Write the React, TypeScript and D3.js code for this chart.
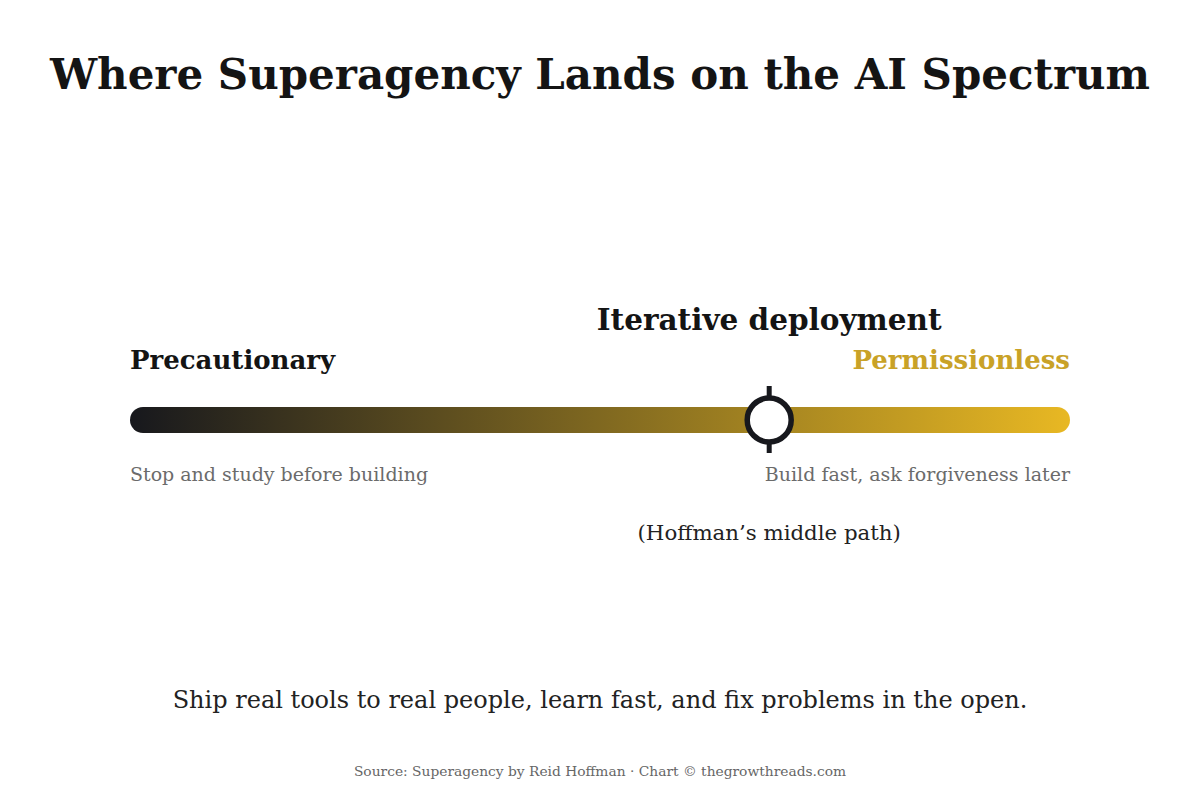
import React, { useEffect, useRef } from 'react';
import * as d3 from 'd3';

// spectrum data
const spectrumDomain = [0, 100];
const endLabels = ['Precautionary', 'Permissionless'];
const endNotes = ['Stop and study before building', 'Build fast, ask forgiveness later'];
const markerValue = [68];
const markerLabels = ['Iterative deployment', '(Hoffman\u2019s middle path)'];
const gradientStops = ['#17181d', '#e8b823'];

const title = 'Where Superagency Lands on the AI Spectrum';
const takeaway = 'Ship real tools to real people, learn fast, and fix problems in the open.';
const source = 'Source: Superagency by Reid Hoffman \u00b7 Chart \u00a9 thegrowthreads.com';

const SERIF = '"DejaVu Serif", Georgia, serif';

export default function App() {
  const svgRef = useRef<SVGSVGElement>(null);

  useEffect(() => {
    if (!svgRef.current) return;
    d3.select(svgRef.current).selectAll('*').remove();

    const width = 1200;
    const height = 800;
    const svg = d3.select(svgRef.current)
      .attr('width', width)
      .attr('height', height)
      .style('display', 'block')
      .style('background', '#ffffff');

    const x = d3.scaleLinear().domain(spectrumDomain).range([130, 1070]);
    const barY = 420;
    const barH = 26;

    const grad = svg.append('defs')
      .append('linearGradient')
      .attr('id', 'spectrum-gradient')
      .attr('x1', '0%').attr('x2', '100%')
      .attr('y1', '0%').attr('y2', '0%');
    gradientStops.forEach((c, i) => {
      grad.append('stop')
        .attr('offset', `${(i / (gradientStops.length - 1)) * 100}%`)
        .attr('stop-color', c);
    });

    // title
    svg.append('text')
      .attr('x', width / 2)
      .attr('y', 89)
      .attr('text-anchor', 'middle')
      .attr('font-family', SERIF)
      .attr('font-weight', 700)
      .attr('font-size', 42)
      .attr('fill', '#141414')
      .text(title);

    // bar
    svg.append('rect')
      .attr('x', x(spectrumDomain[0]))
      .attr('y', barY - barH / 2)
      .attr('width', x(spectrumDomain[1]) - x(spectrumDomain[0]))
      .attr('height', barH)
      .attr('rx', barH / 2)
      .attr('fill', 'url(#spectrum-gradient)');

    // end labels
    const endColors = ['#141414', '#c9a227'];
    endLabels.forEach((lab, i) => {
      svg.append('text')
        .attr('x', x(spectrumDomain[i]))
        .attr('y', 369)
        .attr('text-anchor', i === 0 ? 'start' : 'end')
        .attr('font-family', SERIF)
        .attr('font-weight', 700)
        .attr('font-size', 26)
        .attr('fill', endColors[i])
        .text(lab);
    });

    endNotes.forEach((note, i) => {
      svg.append('text')
        .attr('x', x(spectrumDomain[i]))
        .attr('y', 481)
        .attr('text-anchor', i === 0 ? 'start' : 'end')
        .attr('font-family', SERIF)
        .attr('font-size', 19)
        .attr('fill', '#6b6b6b')
        .text(note);
    });

    // marker
    const mx = x(markerValue[0]);
    svg.append('line')
      .attr('x1', mx).attr('x2', mx)
      .attr('y1', barY - 34).attr('y2', barY + 33)
      .attr('stroke', '#17181d')
      .attr('stroke-width', 5);
    svg.append('circle')
      .attr('cx', mx)
      .attr('cy', barY)
      .attr('r', 22)
      .attr('fill', '#ffffff')
      .attr('stroke', '#17181d')
      .attr('stroke-width', 5.5);

    svg.append('text')
      .attr('x', mx)
      .attr('y', 330)
      .attr('text-anchor', 'middle')
      .attr('font-family', SERIF)
      .attr('font-weight', 700)
      .attr('font-size', 29.5)
      .attr('fill', '#141414')
      .text(markerLabels[0]);

    svg.append('text')
      .attr('x', mx)
      .attr('y', 540)
      .attr('text-anchor', 'middle')
      .attr('font-family', SERIF)
      .attr('font-size', 21.3)
      .attr('fill', '#222222')
      .text(markerLabels[1]);

    // takeaway + source
    svg.append('text')
      .attr('x', width / 2)
      .attr('y', 708)
      .attr('text-anchor', 'middle')
      .attr('font-family', SERIF)
      .attr('font-size', 24)
      .attr('fill', '#222222')
      .text(takeaway);

    svg.append('text')
      .attr('x', width / 2)
      .attr('y', 776)
      .attr('text-anchor', 'middle')
      .attr('font-family', SERIF)
      .attr('font-size', 13.8)
      .attr('fill', '#666666')
      .text(source);
  }, []);

  return (
    <div style={{ position: 'absolute', left: 0, top: 0 }}>
      <svg ref={svgRef}></svg>
    </div>
  );
}
